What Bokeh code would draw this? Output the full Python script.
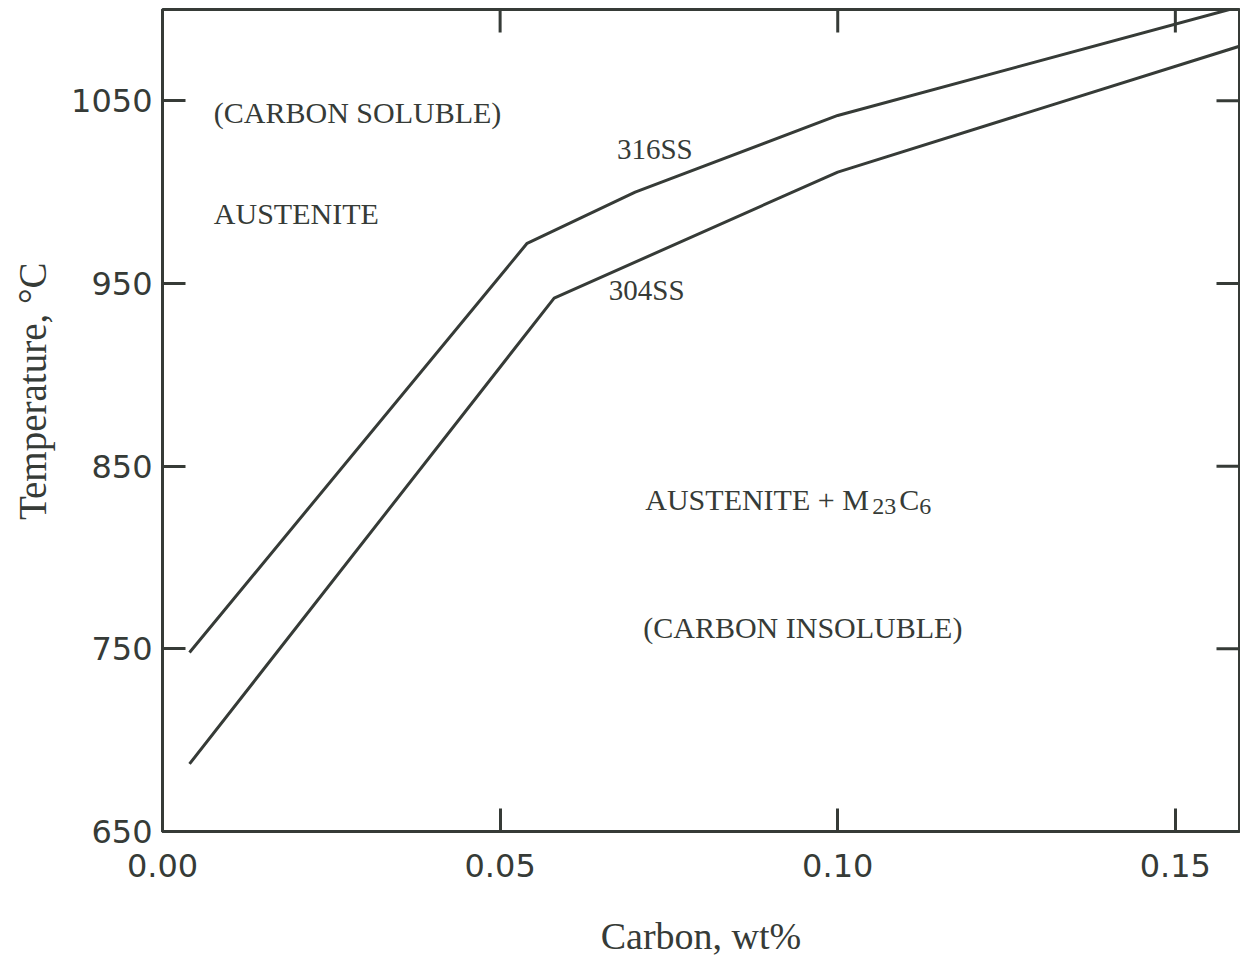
import math
from bokeh.plotting import figure
from bokeh.models import FixedTicker, NumeralTickFormatter, Range1d, ColumnDataSource
from bokeh.core.properties import value
from bokeh.embed import file_html
from bokeh.resources import INLINE

# Solubility limit of carbon in austenite (solvus) for two stainless grades
carbon_316 = [0.004, 0.054, 0.070, 0.100, 0.158]
temp_316 = [748, 972, 1000, 1042, 1100]

carbon_304 = [0.004, 0.058, 0.100, 0.1596]
temp_304 = [687, 942, 1011, 1080]

x_ticks = [0.00, 0.05, 0.10, 0.15]
y_ticks = [650, 750, 850, 950, 1050]

X_MAX = 0.1595
Y_MAX = 1100

INK = "#363b37"
SERIF = "Liberation Serif"
SANS = "DejaVu Sans"

p = figure(width=1240, height=959, output_backend="svg", toolbar_location=None,
           x_range=Range1d(0.0, X_MAX), y_range=Range1d(650, Y_MAX),
           min_border_left=162, min_border_top=9, min_border_right=1,
           min_border_bottom=128)
p.background_fill_color = "white"
p.border_fill_color = "white"
p.grid.visible = False
p.outline_line_color = INK
p.outline_line_width = 3

for ax in (p.xaxis[0], p.yaxis[0]):
    ax.axis_line_color = INK
    ax.axis_line_width = 3
    ax.major_tick_line_color = INK
    ax.major_tick_line_width = 3
    ax.major_tick_in = 23
    ax.major_tick_out = 0
    ax.minor_tick_line_color = None
    ax.major_label_text_font = SANS
    ax.major_label_text_font_size = "32px"
    ax.major_label_text_color = INK
    ax.axis_label_text_font = SERIF
    ax.axis_label_text_font_style = "normal"
    ax.axis_label_text_color = INK

xa = p.xaxis[0]
xa.ticker = FixedTicker(ticks=x_ticks)
xa.formatter = NumeralTickFormatter(format="0.00")
xa.major_label_standoff = 22
xa.axis_label = "Carbon, wt%"
xa.axis_label_text_font_size = "38px"
xa.axis_label_standoff = 35

ya = p.yaxis[0]
ya.ticker = FixedTicker(ticks=y_ticks)
ya.major_label_standoff = 10
# leading no-break spaces lift the title a little above the frame centre
ya.axis_label = "\u00a0" * 6 + "Temperature, \u00b0C"
ya.axis_label_text_font_size = "39px"
ya.axis_label_standoff = 14

# inward ticks on the top and right frame edges
p.ray(x=x_ticks, y=[Y_MAX] * len(x_ticks), length=23, length_units="screen",
      angle=-math.pi / 2, line_color=INK, line_width=3)
p.ray(x=[X_MAX] * len(y_ticks), y=y_ticks, length=23, length_units="screen",
      angle=math.pi, line_color=INK, line_width=3)

# solvus lines
p.line(carbon_316, temp_316, line_color=INK, line_width=3)
p.line(carbon_304, temp_304, line_color=INK, line_width=3)

# region and curve annotations
notes = ColumnDataSource(dict(
    x=[0.0076, 0.0076, 0.0673, 0.0661, 0.0712],
    y=[1043.5, 988.5, 1023.5, 946.5, 761.5],
    t=["(CARBON SOLUBLE)", "AUSTENITE", "316SS", "304SS", "(CARBON INSOLUBLE)"],
    s=["30px", "30px", "29px", "29px", "30px"],
))
p.text(x="x", y="y", text="t", source=notes, text_font=value(SERIF),
       text_font_size="s", text_color=INK, text_align="left",
       text_baseline="alphabetic")

# AUSTENITE + M23C6 with subscripts
phase_x, phase_y = 0.0715, 831.5
pieces = ColumnDataSource(dict(
    x=[phase_x] * 4, y=[phase_y] * 4,
    t=["AUSTENITE + M", "23", "C", "6"],
    s=["30px", "24px", "30px", "24px"],
    dx=[0, 227, 254, 274],
    dy=[0, 7, 0, 7],
))
p.text(x="x", y="y", text="t", source=pieces, text_font=value(SERIF),
       text_font_size="s", text_color=INK, text_align="left",
       text_baseline="alphabetic", x_offset="dx", y_offset="dy")

open("out.html", "w").write(file_html(p, INLINE))
